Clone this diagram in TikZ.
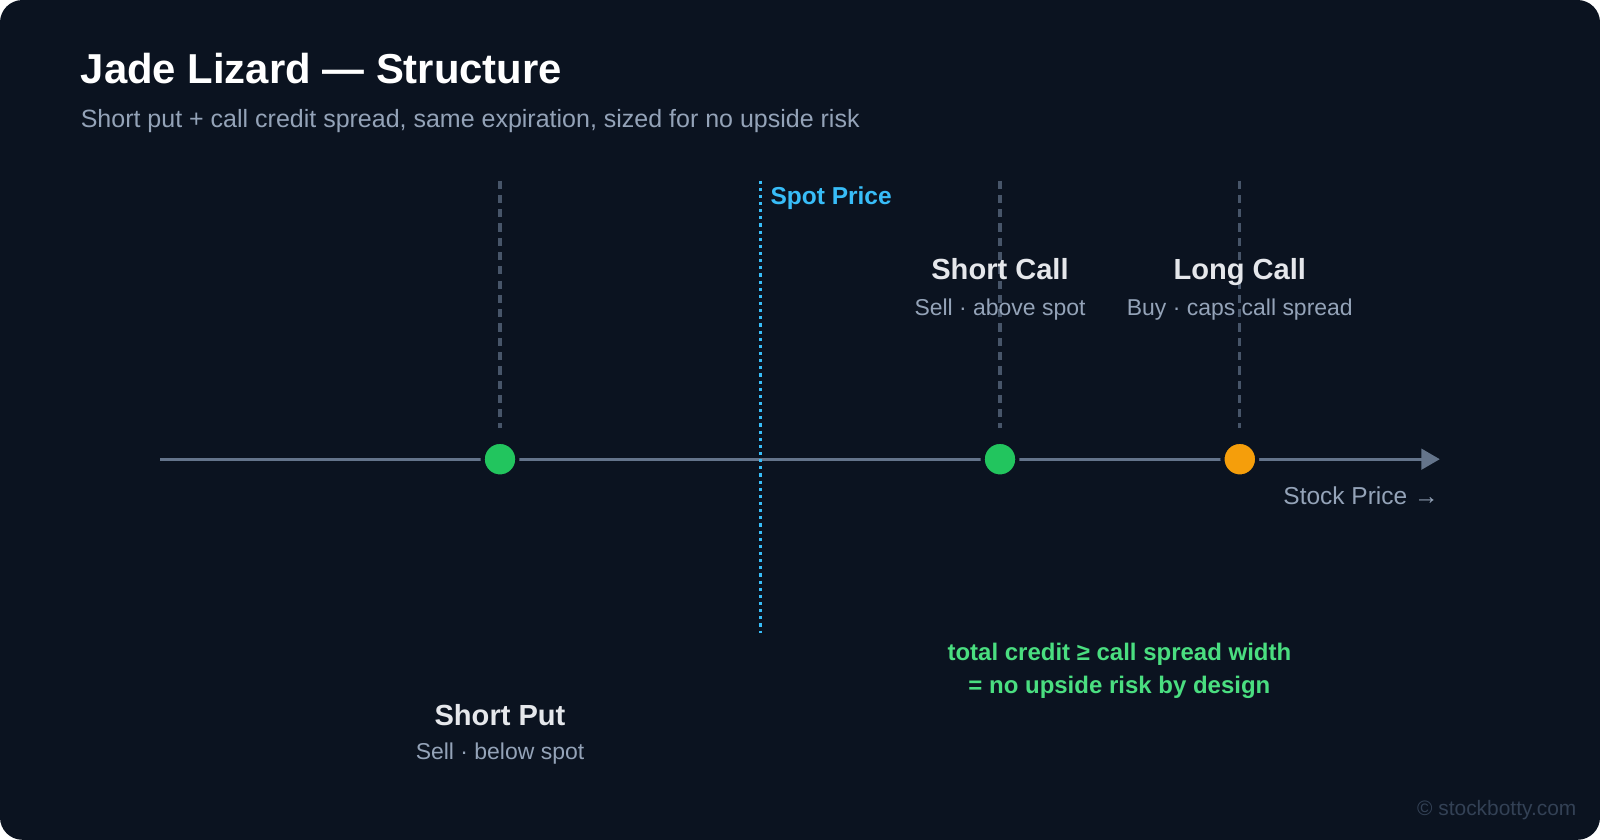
\documentclass[tikz,border=0pt]{standalone}
\usepackage{fontspec}
\setmainfont{Liberation Sans}
\usetikzlibrary{arrows.meta}
\definecolor{bg}{HTML}{0B1320}
\definecolor{axis}{HTML}{64748B}
\definecolor{dashc}{HTML}{475569}
\definecolor{sub}{HTML}{94A3B8}
\definecolor{spot}{HTML}{38BDF8}
\definecolor{grn}{HTML}{22C55E}
\definecolor{lgrn}{HTML}{4ADE80}
\definecolor{org}{HTML}{F59E0B}
\definecolor{wt}{HTML}{E5E7EB}
\definecolor{cpy}{HTML}{334155}
\tikzset{
 fs/.style={font=\fontsize{#1}{#1}\selectfont},
 lab/.style={anchor=base,text=wt,font=\fontsize{28.5}{28.5}\selectfont\bfseries},
 sublab/.style={anchor=base,text=sub,font=\fontsize{22.5}{22.5}\selectfont},
 strike/.style={color=dashc,line width=3pt,dash pattern=on 8pt off 6pt},
 dot/.style={circle,minimum size=34pt,inner sep=0pt,draw=bg,line width=4pt,fill=#1},
}
\begin{document}
\begin{tikzpicture}[x=1pt,y=-1pt]
\useasboundingbox (0,0) rectangle (1568,823);
\fill[bg,rounded corners=22pt] (0,0) rectangle (1568,823);
\node[anchor=base west,inner sep=0pt,text=white,font=\fontsize{41}{41}\selectfont\bfseries] (title) at (79,82) {Jade Lizard — Structure};
\node[anchor=base west,inner sep=0pt,text=sub,fs=24.5] (subt) at (79,125) {Short put + call credit spread, same expiration, sized for no upside risk};
\coordinate (p0) at (490,177); \coordinate (c0) at (980,177); \coordinate (l0) at (1215,177);
\coordinate (a0) at (157,450); \coordinate (a1) at (1411,450);
\draw[axis,line width=3pt,-{Triangle[length=18pt,width=20pt]}] (a0) -- (a1);
\node[dot=grn] (sp) at (490,450) {};
\node[dot=grn] (sc) at (980,450) {};
\node[dot=org] (lc) at (1215,450) {};
\draw[strike] (p0) -- ([yshift=12pt]sp.north);
\draw[strike] (c0) -- ([yshift=12pt]sc.north);
\draw[strike] (l0) -- ([yshift=12pt]lc.north);
\coordinate (s0) at (745,177); \coordinate (s1) at (745,620);
\draw[color=spot,line width=3.2pt,dash pattern=on 3pt off 4pt] (s0) -- (s1);
\node[anchor=base west,inner sep=0pt,text=spot,font=\fontsize{24}{24}\selectfont\bfseries] (spl) at (755,200) {Spot Price};
\node[lab] (scl) at (980,274) {Short Call};
\node[sublab] (scs) at (980,309) {Sell · above spot};
\node[lab] (lcl) at (1215,274) {Long Call};
\node[sublab] (lcs) at (1215,309) {Buy · caps call spread};
\node[lab] (spl2) at (490,711) {Short Put};
\node[sublab] (sps) at (490,744) {Sell · below spot};
\node[anchor=base east,inner sep=0pt,text=sub,fs=24] (stk) at (1410,494) {Stock Price →};
\node[anchor=base,text=lgrn,font=\fontsize{23.5}{23.5}\selectfont\bfseries] (g1) at (1097,647) {total credit ≥ call spread width};
\node[anchor=base,text=lgrn,font=\fontsize{23.5}{23.5}\selectfont\bfseries] (g2) at (1097,680) {= no upside risk by design};
\node[anchor=base east,inner sep=0pt,text=cpy,fs=20.5] (cp) at (1545,799) {© stockbotty.com};
\end{tikzpicture}
\end{document}
